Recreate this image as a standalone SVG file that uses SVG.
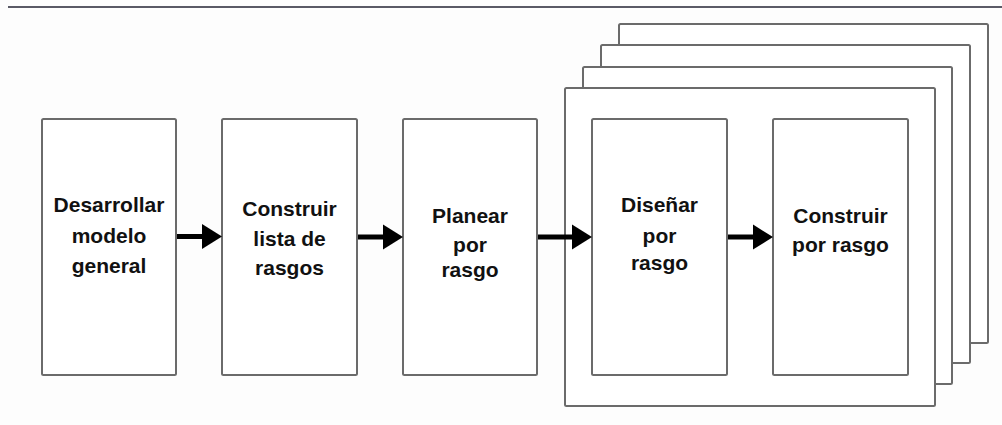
<svg xmlns="http://www.w3.org/2000/svg" width="1002" height="425" viewBox="0 0 1002 425">
  <style>
    .box { fill: #ffffff; stroke: #6b6b6b; stroke-width: 2; }
    .rule { stroke: #5a5a66; stroke-width: 2; }
    .label { font-family: "Liberation Sans", Arial, sans-serif; font-weight: bold; font-size: 21px; fill: #111111; text-anchor: middle; }
    .link { stroke: #000000; stroke-width: 5; fill: none; }
    .head { fill: #000000; }
  </style>
  <rect x="0" y="0" width="1002" height="425" fill="#fdfdfd"/>
  <line class="rule" x1="8" y1="7" x2="1002" y2="7"/>

  <!-- stack of iteration frames, back to front -->
  <g id="iteration-stack">
    <rect class="box" x="619" y="24" width="369" height="319" rx="1.5"/>
    <rect class="box" x="601" y="45" width="369" height="318" rx="1.5"/>
    <rect class="box" x="583" y="67" width="369" height="317" rx="1.5"/>
    <rect class="box" x="565" y="88" width="370" height="318" rx="1.5"/>
  </g>

  <g id="desarrollar-modelo">
    <rect class="box" x="42" y="119" width="134" height="256" rx="1.5"/>
    <text class="label" x="109" y="212">Desarrollar</text>
    <text class="label" x="109" y="243">modelo</text>
    <text class="label" x="109" y="273">general</text>
  </g>

  <g id="construir-lista">
    <rect class="box" x="222" y="119" width="135" height="256" rx="1.5"/>
    <text class="label" x="289.5" y="216">Construir</text>
    <text class="label" x="289.5" y="246">lista de</text>
    <text class="label" x="289.5" y="275">rasgos</text>
  </g>

  <g id="planear-rasgo">
    <rect class="box" x="403" y="119" width="134" height="256" rx="1.5"/>
    <text class="label" x="470" y="223">Planear</text>
    <text class="label" x="470" y="252">por</text>
    <text class="label" x="470" y="277">rasgo</text>
  </g>

  <g id="disenar-rasgo">
    <rect class="box" x="592" y="119" width="135" height="256" rx="1.5"/>
    <text class="label" x="659.5" y="212">Diseñar</text>
    <text class="label" x="659.5" y="243">por</text>
    <text class="label" x="659.5" y="270">rasgo</text>
  </g>

  <g id="construir-rasgo">
    <rect class="box" x="773" y="119" width="135" height="256" rx="1.5"/>
    <text class="label" x="840.5" y="223">Construir</text>
    <text class="label" x="840.5" y="252">por rasgo</text>
  </g>

  <g id="connectors">
    <line class="link" x1="177" y1="236.5" x2="204" y2="236.5"/>
    <polygon class="head" points="202,224 222,236.5 202,249"/>
    <line class="link" x1="358" y1="237" x2="384" y2="237"/>
    <polygon class="head" points="383,224.5 403,237 383,249.5"/>
    <line class="link" x1="538" y1="237" x2="574" y2="237"/>
    <polygon class="head" points="572,224.5 592,237 572,249.5"/>
    <line class="link" x1="728" y1="237" x2="755" y2="237"/>
    <polygon class="head" points="753,224.5 773,237 753,249.5"/>
  </g>
</svg>
